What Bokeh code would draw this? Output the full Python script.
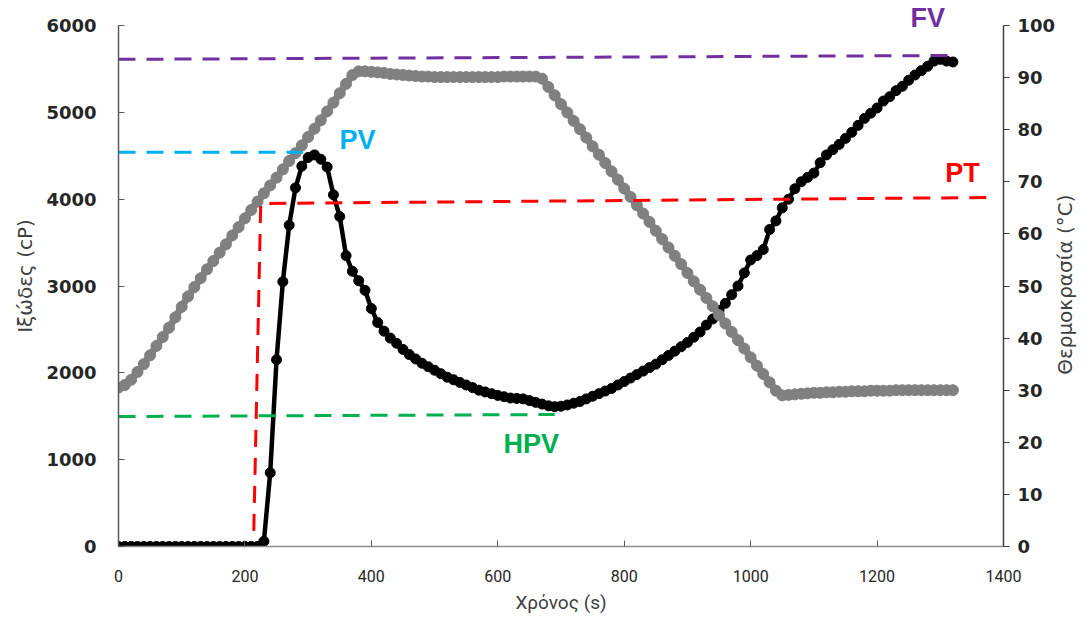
import math
from bokeh.plotting import figure
from bokeh.models import Range1d, LinearAxis, FixedTicker, Label
from bokeh.embed import file_html
from bokeh.resources import INLINE

# ---------------- data ----------------
time_s = [
    0, 10, 20, 30, 40, 50, 60, 70, 80, 90,
    100, 110, 120, 130, 140, 150, 160, 170, 180, 190,
    200, 210, 220, 230, 240, 250, 260, 270, 280, 290,
    300, 310, 320, 330, 340, 350, 360, 370, 380, 390,
    400, 410, 420, 430, 440, 450, 460, 470, 480, 490,
    500, 510, 520, 530, 540, 550, 560, 570, 580, 590,
    600, 610, 620, 630, 640, 650, 660, 670, 680, 690,
    700, 710, 720, 730, 740, 750, 760, 770, 780, 790,
    800, 810, 820, 830, 840, 850, 860, 870, 880, 890,
    900, 910, 920, 930, 940, 950, 960, 970, 980, 990,
    1000, 1010, 1020, 1030, 1040, 1050, 1060, 1070, 1080, 1090,
    1100, 1110, 1120, 1130, 1140, 1150, 1160, 1170, 1180, 1190,
    1200, 1210, 1220, 1230, 1240, 1250, 1260, 1270, 1280, 1290,
    1300, 1310, 1320,
]

viscosity_cp = [
    0, 0, 0, 0, 0, 0, 0, 0, 0, 0,
    0, 0, 0, 0, 0, 0, 0, 0, 0, 0,
    0, 0, 0, 60, 850, 2150, 3050, 3700, 4130, 4380,
    4480, 4510, 4460, 4370, 4050, 3800, 3350, 3170, 3060, 2950,
    2740, 2580, 2480, 2400, 2340, 2270, 2210, 2160, 2110, 2070,
    2030, 1990, 1950, 1920, 1890, 1860, 1830, 1800, 1780, 1760,
    1740, 1725, 1710, 1705, 1700, 1680, 1660, 1640, 1620, 1610,
    1615, 1630, 1650, 1670, 1700, 1730, 1760, 1790, 1820, 1860,
    1900, 1940, 1980, 2020, 2060, 2100, 2150, 2200, 2250, 2300,
    2350, 2410, 2470, 2550, 2620, 2720, 2800, 2900, 3000, 3150,
    3300, 3350, 3420, 3650, 3750, 3900, 4000, 4120, 4200, 4250,
    4300, 4420, 4510, 4570, 4630, 4700, 4770, 4850, 4930, 4990,
    5050, 5130, 5180, 5250, 5300, 5370, 5430, 5480, 5530, 5590,
    5610, 5590, 5580,
]

temperature_c = [
    30.5, 31.0, 32.0, 33.5, 35.0, 36.7, 38.5, 40.2, 42.0, 44.0,
    46.0, 48.0, 49.8, 51.5, 53.2, 54.8, 56.4, 58.0, 59.7, 61.3,
    63.0, 64.6, 66.2, 67.8, 69.3, 70.8, 72.4, 74.0, 75.5, 77.0,
    78.6, 80.2, 81.8, 83.5, 85.2, 87.0, 88.8, 90.5, 91.2, 91.2,
    91.1, 91.0, 90.9, 90.7, 90.6, 90.5, 90.4, 90.3, 90.2, 90.2,
    90.1, 90.1, 90.1, 90.1, 90.1, 90.1, 90.1, 90.1, 90.1, 90.1,
    90.1, 90.2, 90.2, 90.2, 90.2, 90.2, 90.2, 89.8, 88.2, 86.6,
    84.9, 83.3, 81.7, 80.1, 78.5, 76.8, 75.2, 73.6, 72.0, 70.4,
    68.7, 67.1, 65.5, 63.9, 62.3, 60.6, 59.0, 57.4, 55.8, 54.2,
    52.5, 50.9, 49.3, 47.7, 46.1, 44.4, 42.8, 41.2, 39.6, 38.0,
    36.3, 34.7, 33.1, 31.5, 29.9, 29.0, 29.1, 29.2, 29.3, 29.4,
    29.5, 29.5, 29.6, 29.6, 29.7, 29.7, 29.8, 29.8, 29.8, 29.9,
    29.9, 29.9, 29.9, 30.0, 30.0, 30.0, 30.0, 30.0, 30.0, 30.0,
    30.0, 30.0, 30.0,
]

# reference (dashed) lines: time / viscosity end points
fv_t, fv_v = [0, 1328], [5610, 5655]
pv_t, pv_v = [0, 292], [4540, 4540]
pt_t, pt_v = [214, 225, 1388], [180, 3950, 4020]
hpv_t, hpv_v = [0, 690], [1497, 1520]

x_ticks = [0, 200, 400, 600, 800, 1000, 1200, 1400]
y_ticks = [0, 1000, 2000, 3000, 4000, 5000, 6000]
t_ticks = [0, 10, 20, 30, 40, 50, 60, 70, 80, 90, 100]

x_title = "Χρόνος (s)"
y_title = "Ιξώδες (cP)"
y2_title = "Θερμοκρασία (°C)"

# ---------------- figure ----------------
# frame spans 541 px; the axes themselves stop at 6000 cP / 100 °C (521 px),
# leaving room above for the "FV" tag as in the original.
Y_MAX, T_MAX = 6000, 100
FRAME_H, AXIS_H = 541, 521
W, H = 1091, 619
LEFT, RIGHT, TOP, BOTTOM = 118, 88, 5, 73
p = figure(width=W, height=H,
           x_range=Range1d(0, 1400),
           y_range=Range1d(0, Y_MAX * FRAME_H / AXIS_H),
           output_backend="svg", toolbar_location=None,
           min_border_left=LEFT, min_border_right=RIGHT,
           min_border_top=TOP, min_border_bottom=BOTTOM)
p.extra_y_ranges = {"temp": Range1d(0, T_MAX * FRAME_H / AXIS_H)}
p.xgrid.visible = False
p.ygrid.visible = False
p.outline_line_color = None

TICK_COLOR = "#262626"
TITLE_FONT = "DejaVu Sans"

# bottom axis
xa = p.xaxis[0]
xa.ticker = FixedTicker(ticks=x_ticks)
xa.axis_label = x_title
xa.axis_line_color = "#8c8c8c"
xa.axis_line_width = 1.5
xa.major_tick_in = 6
xa.major_tick_out = 0
xa.minor_tick_line_color = None
xa.major_tick_line_color = "#595959"
xa.major_label_standoff = 23
xa.major_label_text_font = "Roboto"
xa.major_label_text_font_size = "16px"
xa.major_label_text_color = TICK_COLOR
xa.axis_label_standoff = 6
xa.axis_label_text_font = "Roboto"
xa.axis_label_text_font_size = "19px"
xa.axis_label_text_font_style = "normal"
xa.axis_label_text_color = "#404040"

# left axis
ya = p.yaxis[0]
ya.ticker = FixedTicker(ticks=y_ticks)
ya.bounds = (0, Y_MAX)
ya.axis_label = y_title
ya.axis_line_color = "#595959"
ya.axis_line_width = 1.5
ya.major_tick_in = 6
ya.major_tick_out = 0
ya.minor_tick_line_color = None
ya.major_tick_line_color = "#595959"
ya.major_label_standoff = 22
ya.major_label_text_font = "DejaVu Sans"
ya.major_label_text_font_style = "bold"
ya.major_label_text_font_size = "18px"
ya.major_label_text_color = TICK_COLOR
ya.axis_label_standoff = 6
ya.axis_label_text_font = TITLE_FONT
ya.axis_label_text_font_size = "20px"
ya.axis_label_text_font_style = "normal"
ya.axis_label_text_color = "#404040"

# right axis: line, ticks and tick labels
ra = LinearAxis(y_range_name="temp", ticker=FixedTicker(ticks=t_ticks),
                bounds=(0, T_MAX))
ra.axis_line_color = "#404040"
ra.axis_line_width = 1.5
ra.major_tick_in = 0
ra.major_tick_out = 6
ra.minor_tick_line_color = None
ra.major_tick_line_color = "#404040"
ra.major_label_standoff = 8
ra.major_label_text_font = "DejaVu Sans"
ra.major_label_text_font_style = "bold"
ra.major_label_text_font_size = "18px"
ra.major_label_text_color = TICK_COLOR
p.add_layout(ra, "right")

# right axis title only, reading bottom-to-top as in the original
rt = LinearAxis(y_range_name="temp", ticker=FixedTicker(ticks=[]))
rt_label = y2_title
if "axis_label_align" in rt.properties():
    # anchor the title at the bottom of the axis and push the visible text
    # up (non-breaking spaces) to where the original title starts
    rt.axis_label_align = "start"
    rt_label = "\u00a0" * 27 + y2_title
rt.axis_label = rt_label
rt.axis_line_color = None
rt.major_tick_line_color = None
rt.minor_tick_line_color = None
rt.major_tick_in = 0
rt.major_tick_out = 0
rt.major_label_standoff = 0
rt.axis_label_standoff = 6
rt.axis_label_orientation = math.pi / 2
rt.axis_label_text_font = TITLE_FONT
rt.axis_label_text_font_size = "20px"
rt.axis_label_text_font_style = "normal"
rt.axis_label_text_color = "#404040"
p.add_layout(rt, "right")

# ---------------- series ----------------
p.line(time_s, viscosity_cp, line_color="black", line_width=4.5)
p.scatter(time_s, viscosity_cp, size=10, fill_color="black", line_color="black")

p.line(time_s, temperature_c, line_color="#808080", line_width=7,
       y_range_name="temp")
p.scatter(time_s, temperature_c, size=11, fill_color="#808080",
          line_color="#808080", y_range_name="temp")

# ---------------- reference lines ----------------
DASH = "17 11"
p.line(fv_t, fv_v, line_color="#7030A0", line_width=3, line_dash=DASH)
p.line(pv_t, pv_v, line_color="#00B0F0", line_width=3, line_dash=DASH)
p.line(pt_t, pt_v, line_color="#FF0000", line_width=3, line_dash=DASH)
p.line(hpv_t, hpv_v, line_color="#00B050", line_width=3, line_dash=DASH)

def tag(text, x, y, color):
    p.add_layout(Label(x=x, y=y, text=text, text_color=color,
                       text_font="Liberation Sans", text_font_style="bold",
                       text_font_size="27px", text_align="center",
                       text_baseline="middle"))

tag("FV", 1280, 6081, "#7030A0")
tag("PV", 378, 4676, "#00B0F0")
tag("PT", 1335, 4307, "#FF0000")
tag("HPV", 653, 1175, "#00B050")

open("out.html", "w").write(file_html(p, INLINE))
